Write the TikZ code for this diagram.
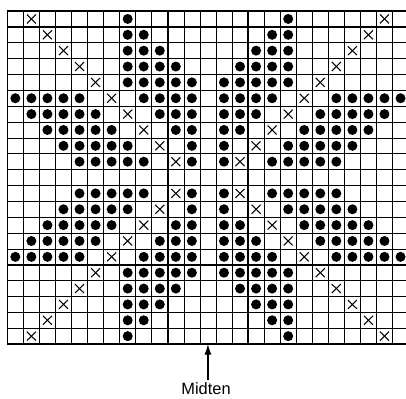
\documentclass[tikz,border=0pt]{standalone}
\usepackage{fontspec}
\setsansfont{Liberation Sans}
\usetikzlibrary{arrows.meta, positioning}
\tikzset{
  gridT/.style={draw=black, line width=0.45pt},
  gridK/.style={draw=black, line width=1.1pt},
  stitchDot/.style={fill=black},
  stitchX/.style={draw=black, line width=0.9pt},
  midLbl/.style={font=\sffamily\fontsize{14}{16}\selectfont, inner sep=2pt},
}
\begin{document}
\begin{tikzpicture}[x=0.4815cm, y=-0.4758cm]
    \useasboundingbox (-0.455,-0.694) rectangle (24.84,24.40);
    \clip (-0.455,-0.694) rectangle (24.84,24.40);
    %% grid
    \foreach \i in {0,...,25}{
      \draw[gridT] (\i,0) -- (\i,21);
    }
    \foreach \j in {0,...,21}{
      \draw[gridT] (0,\j) -- (25,\j);
    }
    \foreach \i in {0,5,...,25}{
      \draw[gridK] (\i,0) -- (\i,21);
    }
    \foreach \j in {0,1,6,11,16,21}{
      \draw[gridK] (0,\j) -- (25,\j);
    }
    %% dots, one quarter given, mirrored four ways
    \foreach \r/\cols in {0/{7}, 1/{7,8}, 2/{7,8,9}, 3/{7,8,9,10},
                          4/{7,8,9,10,11}, 5/{0,1,2,3,4,8,9,10,11},
                          6/{1,2,3,4,5,9,10,11}, 7/{2,3,4,5,6,10,11},
                          8/{3,4,5,6,7,11}, 9/{4,5,6,7,8,11}}{
      \foreach \c in \cols {
        \fill[stitchDot] ({\c+0.5},{\r+0.5}) circle (0.15cm);
        \fill[stitchDot] ({24.5-\c},{\r+0.5}) circle (0.15cm);
        \fill[stitchDot] ({\c+0.5},{20.5-\r}) circle (0.15cm);
        \fill[stitchDot] ({24.5-\c},{20.5-\r}) circle (0.15cm);
      }
    }
    %% crosses on the diagonals
    \foreach \r in {0,...,9}{
      \foreach \x/\y in {{\r+1.5}/{\r+0.5}, {23.5-\r}/{\r+0.5},
                         {\r+1.5}/{20.5-\r}, {23.5-\r}/{20.5-\r}}{
        \draw[stitchX] ({\x-0.28},{\y-0.28}) -- ({\x+0.28},{\y+0.28});
        \draw[stitchX] ({\x-0.28},{\y+0.28}) -- ({\x+0.28},{\y-0.28});
      }
    }
    %% middle mark
    \coordinate (mid) at (12.5,21);
    \node[midLbl] (midten) at (12.38,23.78) {Midten};
    \draw[line width=1pt, -{Latex[length=9pt,width=6pt]}] (midten.north -| mid) -- (mid);
\end{tikzpicture}
\end{document}
